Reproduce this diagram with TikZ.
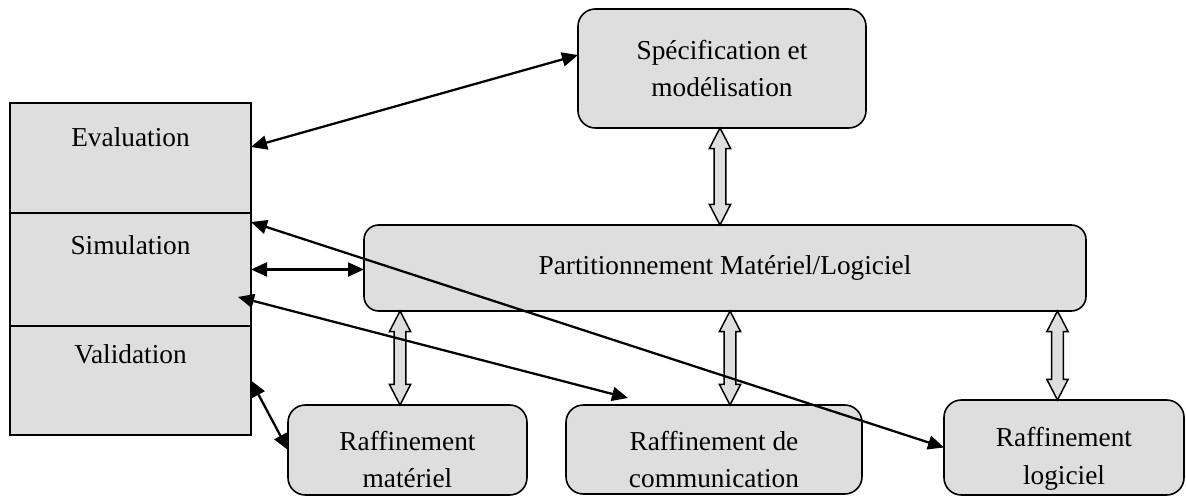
\documentclass[tikz,border=0pt]{standalone}
\usepackage{fontspec}
\setmainfont{Liberation Serif}
\usetikzlibrary{arrows.meta, positioning, calc}
\definecolor{boxgray}{HTML}{DEDEDE}

% hollow double arrow, vertical, x taken from the second point
\newcommand{\dblarrow}[2]{%
  \draw[hollow] let \p1=(#1), \p2=(#2) in
    (\x2,\y1) -- (\x2+8pt,\y1-15.5pt) -- (\x2+4.4pt,\y1-15.5pt) -- (\x2+4.4pt,\y2+15.5pt)
    -- (\x2+8pt,\y2+15.5pt) -- (\x2,\y2) -- (\x2-8pt,\y2+15.5pt) -- (\x2-4.4pt,\y2+15.5pt)
    -- (\x2-4.4pt,\y1-15.5pt) -- (\x2-8pt,\y1-15.5pt) -- cycle;}

\begin{document}
\begin{tikzpicture}[x=0.75pt, y=-0.75pt,
    every node/.style={font=\fontsize{20.5pt}{28pt}\selectfont},
    block/.style={draw, fill=boxgray, line width=1.2pt, outer sep=0pt, inner sep=0pt},
    rblock/.style={block, rounded corners=13pt},
    hollow/.style={draw, fill=boxgray, line width=1.1pt, line join=miter},
    link/.style={{Triangle[length=12pt,width=10.5pt]}-{Triangle[length=12pt,width=10.5pt]}, line width=1.7pt}]
    \useasboundingbox (0,0) rectangle (1186,498);
    % left column
    \node (eval) [block, minimum width=180.75pt, minimum height=82.5pt] at (130.5,158) {};
    \node (simu) [block, minimum width=180.75pt, minimum height=84.75pt, below=0pt of eval] {};
    \node (valid) [block, minimum width=180.75pt, minimum height=81.75pt, below=0pt of simu] {};
    \node (evaltxt) [anchor=base] at (130.5,147) {Evaluation};
    \node (simutxt) [anchor=base] at (130.5,255) {Simulation};
    \node (validtxt) [anchor=base] at (130.5,364) {Validation};
    % flow
    \node (spec) [rblock, align=center, minimum width=216pt, minimum height=89.25pt] at (722,68.5) {Spécification et\\modélisation};
    \node (part) [rblock, rounded corners=11pt, minimum width=541.5pt, minimum height=64.5pt] at (725,268) {Partitionnement Matériel/Logiciel};
    \node (rmat) [rblock, minimum width=179.25pt, minimum height=67.5pt] at (407.5,450) {};
    \node (rcom) [rblock, minimum width=222pt, minimum height=66.75pt] at (714,449.5) {};
    \node (rlog) [rblock, minimum width=180pt, minimum height=71.25pt] at (1064,447.5) {};
    \node (rmattxt) [align=center] at ([yshift=-7.1pt]rmat.center) {Raffinement\\matériel};
    \node (rcomtxt) [align=center] at ([yshift=-7.5pt]rcom.center) {Raffinement de\\communication};
    \node (rlogtxt) [align=center] at ([yshift=-8.4pt]rlog.center) {Raffinement\\logiciel};
    \dblarrow{spec.south}{[xshift=-3.75pt]part.north}
    \dblarrow{part.south}{[xshift=-5.6pt]rmat.north}
    \dblarrow{part.south}{[xshift=12pt]rcom.north}
    \dblarrow{part.south}{[xshift=-4.9pt]rlog.north}
    % links to the left column
    \draw[link] ([yshift=8.25pt]eval.east) -- ([yshift=10.1pt]spec.west);
    \draw[link] (simu.east) -- (simu.east -| part.west);
    \draw[link] ([yshift=-6.75pt]simu.north east) -- (rlog.west);
    \draw[link] ([xshift=-9.75pt, yshift=-20.6pt]simu.east) -- ([xshift=-64.5pt, yshift=5.25pt]rcom.north);
    \draw[link] (valid.east) -- (rmat.west);
\end{tikzpicture}
\end{document}
